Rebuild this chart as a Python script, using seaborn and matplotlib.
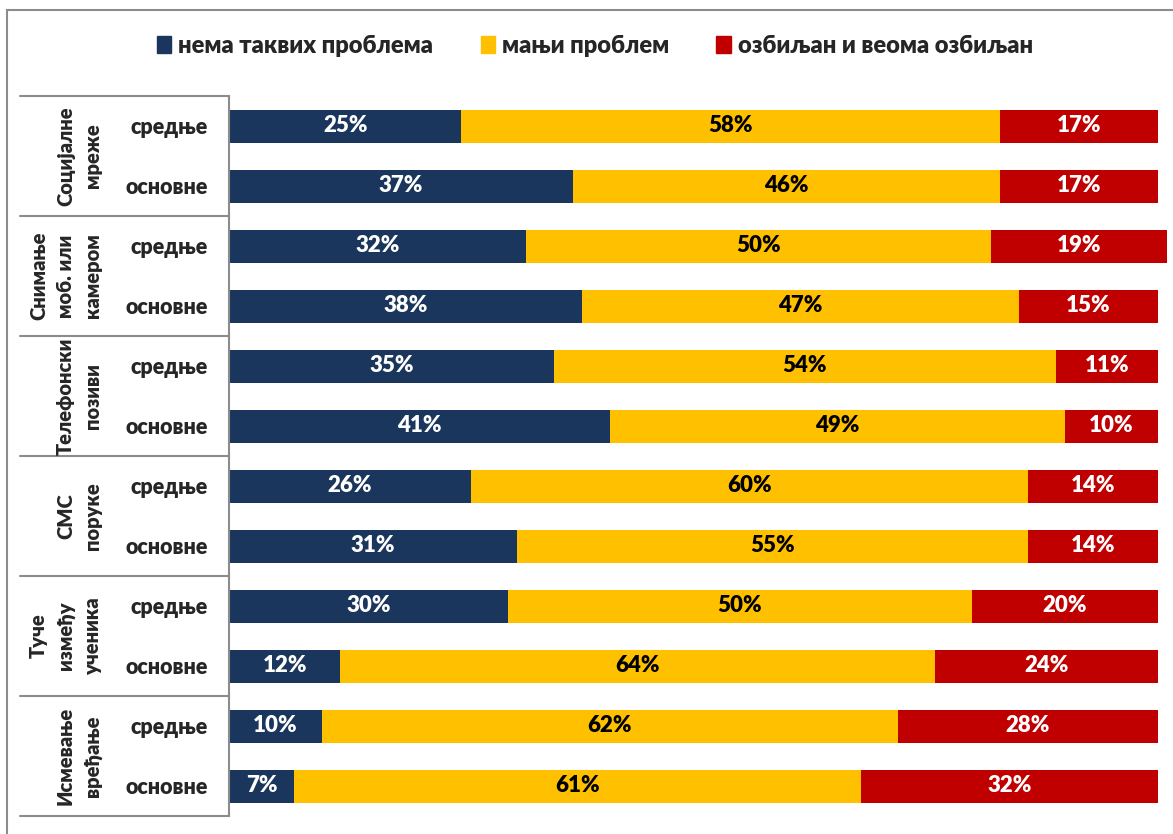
import numpy as np
import pandas as pd
import seaborn as sns
import matplotlib.pyplot as plt
from matplotlib.patches import Rectangle
from matplotlib.lines import Line2D

groups = ["Социјалне\nмреже", "Снимање\nмоб. или\nкамером", "Телефонски\nпозиви",
          "СМС\nпоруке", "Туче\nизмеђу\nученика", "Исмевање\nвређање"]
levels = ["средње", "основне"]
series = ["нема таквих проблема", "мањи проблем", "озбиљан и веома озбиљан"]

no_problem = [25, 37, 32, 38, 35, 41, 26, 31, 30, 12, 10, 7]
minor      = [58, 46, 50, 47, 54, 49, 60, 55, 50, 64, 62, 61]
serious    = [17, 17, 19, 15, 11, 10, 14, 14, 20, 24, 28, 32]

colors = ["#1B365D", "#FFC000", "#C00000"]

W, H = 1173, 834
sns.set_style("white")
plt.rcParams['font.family'] = ['Lato', 'DejaVu Sans']
WEIGHT = "heavy"

fig = plt.figure(figsize=(W / 100, H / 100), dpi=100)

def fx(px):
    return px / W

def fy(py):
    return 1 - py / H

# outer frame of the chart area
fig.patches.append(Rectangle((fx(7), fy(840)), fx(1180) - fx(7), fy(10) - fy(840),
                             transform=fig.transFigure, fill=False,
                             edgecolor="#8c8c8c", lw=1.5))

x0, x100, ytop, ybot = 229, 1158, 96, 816
ax = fig.add_axes([fx(x0), fy(ybot), fx(x100) - fx(x0), fy(ytop) - fy(ybot)])

rows = [str(i) for i in range(len(no_problem))]
df = pd.DataFrame({"row": rows, "a": no_problem, "b": minor, "c": serious})
df["ab"] = df["a"] + df["b"]
df["abc"] = df["ab"] + df["c"]

# stacked by overlaying cumulative totals
for col, c in zip(["abc", "ab", "a"], colors[::-1]):
    sns.barplot(data=df, x=col, y="row", order=rows, color=c, orient="h",
                width=0.55, saturation=1, ax=ax, edgecolor="none")
for p in ax.patches:
    p.set_clip_on(False)

ax.set_xlim(0, 100)
ax.set_ylim(len(rows) - 0.5, -0.5)
ax.set_xlabel("")
ax.set_ylabel("")
ax.set_xticks([])
ax.set_yticks(range(len(rows)))
ax.set_yticklabels([levels[i % 2] for i in range(len(rows))], fontsize=15.5, fontweight=WEIGHT)
ax.tick_params(axis="y", length=0, pad=15)
for s in ["top", "right", "bottom"]:
    ax.spines[s].set_visible(False)
ax.spines["left"].set_color("#8c8c8c")
ax.spines["left"].set_linewidth(1.5)

# value labels
for i in range(len(rows)):
    a, b, c = no_problem[i], minor[i], serious[i]
    ax.text(a / 2, i, f"{a}%", ha="center", va="center", color="white", fontsize=16, fontweight=WEIGHT)
    ax.text(a + b / 2, i, f"{b}%", ha="center", va="center", color="black", fontsize=16, fontweight=WEIGHT)
    ax.text(a + b + c / 2, i, f"{c}%", ha="center", va="center", color="white", fontsize=16,
            fontweight=WEIGHT, clip_on=False)

# group table on the left
ng = len(groups)
for k in range(ng + 1):
    py = ytop + k * (ybot - ytop) / ng
    fig.add_artist(Line2D([fx(20), fx(x0)], [fy(py), fy(py)], transform=fig.transFigure,
                          color="#8c8c8c", lw=1.5))
    if k < ng:
        fig.text(fx(102), fy(py + (ybot - ytop) / ng / 2), groups[k], rotation=90,
                 ha="right", va="center", fontsize=14.5, fontweight=WEIGHT,
                 linespacing=1.5, multialignment="center")

# legend
handles = [Rectangle((0, 0), 1, 1, color=c) for c in colors]
fig.legend(handles, series, loc="center", bbox_to_anchor=(fx(595), fy(46)), ncol=3,
           frameon=False, handlelength=0.6, handleheight=0.75,
           handletextpad=0.3, columnspacing=2.0, prop={"weight": WEIGHT, "size": 17})

fig.savefig("out.png", dpi=100)
